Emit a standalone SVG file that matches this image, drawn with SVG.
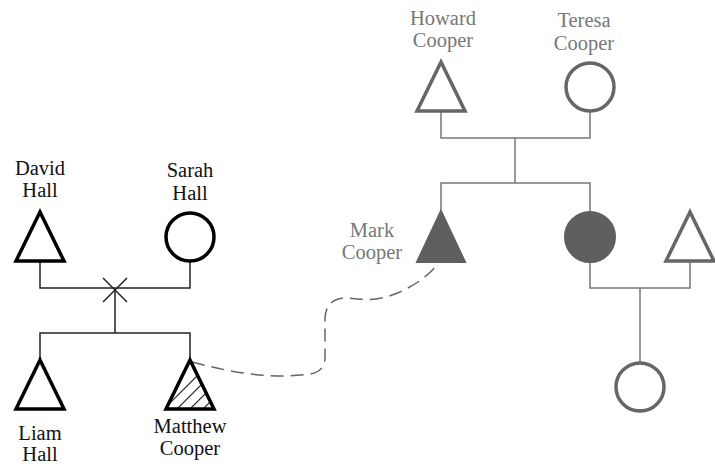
<svg xmlns="http://www.w3.org/2000/svg" width="715" height="464" viewBox="0 0 715 464">
<style>
.lbl{font-family:"Liberation Serif","Times New Roman",serif;font-size:20.5px;text-anchor:middle}
.blk{fill:#111}
.gry{fill:#777}
.sb{fill:none;stroke:#000;stroke-width:3.5;stroke-linejoin:miter}
.sg{fill:none;stroke:#666;stroke-width:3.5}
.fg{fill:#5f5f5f;stroke:#5f5f5f;stroke-width:2}
.lb{fill:none;stroke:#222;stroke-width:1.5}
.lg{fill:none;stroke:#777;stroke-width:1.5}
</style>
<defs>
<clipPath id="mc"><polygon points="190,362 166,409 214,409"/></clipPath>
</defs>
<rect width="715" height="464" fill="#fff"/>
<g id="connectors">
<path class="lb" d="M40,262 V288 H190 V262"/>
<path class="lb" d="M103,278 L127,302 M127,278 L103,302"/>
<path class="lb" d="M115,290 V333 M40,360 V333 H190 V360"/>
<path class="lg" d="M441,112 V138 H590 V111"/>
<path class="lg" d="M515,138 V183 M441,210 V183 H590 V211"/>
<path class="lg" d="M590,262 V288 H690 V262 M640,288 V362"/>
<path fill="none" stroke="#666" stroke-width="1.5" stroke-dasharray="13,7" d="M192,362 C230,372 270,380 310,374 Q324,372 325,358 L325,318 Q326,300 343,298 C360,298 372,304 400,292 C415,285 428,276 437,265"/>
</g>
<g id="david-hall">
<polygon class="sb" points="40,212 16,261 64,261"/>
<text class="lbl blk" x="40" y="175">David</text>
<text class="lbl blk" x="40" y="197">Hall</text>
</g>
<g id="sarah-hall">
<circle class="sb" cx="190" cy="237" r="24"/>
<text class="lbl blk" x="190" y="177">Sarah</text>
<text class="lbl blk" x="190" y="200">Hall</text>
</g>
<g id="liam-hall">
<polygon class="sb" points="40,360 16,409 64,409"/>
<text class="lbl blk" x="40" y="440">Liam</text>
<text class="lbl blk" x="40" y="461">Hall</text>
</g>
<g id="matthew-cooper">
<g clip-path="url(#mc)" stroke="#222" stroke-width="1.2">
<line x1="150" y1="423" x2="230" y2="343"/>
<line x1="163" y1="423" x2="243" y2="343"/>
<line x1="176" y1="423" x2="256" y2="343"/>
<line x1="189" y1="423" x2="269" y2="343"/>
<line x1="202" y1="423" x2="282" y2="343"/>
</g>
<polygon class="sb" points="190,360 166,409 214,409"/>
<text class="lbl blk" x="190" y="433">Matthew</text>
<text class="lbl blk" x="190" y="455">Cooper</text>
</g>
<g id="howard-cooper">
<polygon class="sg" points="441,62 417,111 465,111"/>
<text class="lbl gry" x="443" y="25">Howard</text>
<text class="lbl gry" x="443" y="47">Cooper</text>
</g>
<g id="teresa-cooper">
<circle class="sg" cx="590" cy="87" r="24"/>
<text class="lbl gry" x="584" y="27">Teresa</text>
<text class="lbl gry" x="584" y="50">Cooper</text>
</g>
<g id="mark-cooper">
<polygon class="fg" points="441,211 417,262 465,262"/>
<text class="lbl gry" x="372" y="237">Mark</text>
<text class="lbl gry" x="372" y="259">Cooper</text>
</g>
<g id="sister">
<circle class="fg" cx="590" cy="237" r="25"/>
</g>
<g id="brother-in-law">
<polygon class="sg" points="690,212 666,261 714,261"/>
</g>
<g id="niece">
<circle class="sg" cx="640" cy="387" r="24"/>
</g>
</svg>
